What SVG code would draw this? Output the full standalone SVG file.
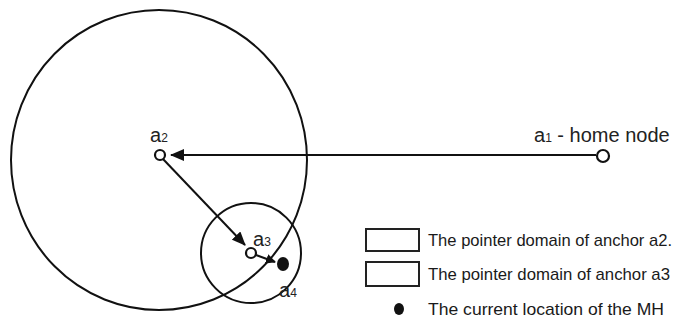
<svg xmlns="http://www.w3.org/2000/svg" width="686" height="326" viewBox="0 0 686 326">
<defs>
<style>
.ln{fill:none;stroke:#111;stroke-width:2}
.node{fill:#fff;stroke:#111;stroke-width:2.2}
.lbl{font-family:"Liberation Sans",Arial,sans-serif;font-size:20px;fill:#222}
.sub{font-size:12px}
.leg{font-family:"Liberation Sans",Arial,sans-serif;font-size:17px;fill:#1a1a1a}
.box{fill:#fff;stroke:#222;stroke-width:2}
</style>
<marker id="ah" markerUnits="userSpaceOnUse" markerWidth="14" markerHeight="12" refX="13" refY="6" orient="auto">
<path d="M0,0 L14,6 L0,12 Z" fill="#111"/>
</marker>
<marker id="ahs" markerUnits="userSpaceOnUse" markerWidth="10" markerHeight="10" refX="9" refY="5" orient="auto">
<path d="M0,0 L10,5 L0,10 Z" fill="#111"/>
</marker>
</defs>
<rect width="686" height="326" fill="#fff"/>
<g id="domain-a2"><ellipse class="ln" cx="159" cy="160" rx="148" ry="150"/></g>
<g id="domain-a3"><circle class="ln" cx="251" cy="253" r="50"/></g>
<g id="connectors">
<line class="ln" x1="596" y1="155" x2="171" y2="155" marker-end="url(#ah)"/>
<line class="ln" x1="163" y1="159" x2="245" y2="245" marker-end="url(#ah)"/>
<line class="ln" x1="256" y1="255" x2="275" y2="262" marker-end="url(#ahs)"/>
</g>
<g id="a1"><circle class="node" cx="603" cy="156" r="6"/>
<text class="lbl" x="534" y="142">a<tspan class="sub">1</tspan> - home node</text></g>
<g id="a2"><circle class="node" cx="160" cy="155" r="5"/>
<text class="lbl" x="150" y="142">a<tspan class="sub">2</tspan></text></g>
<g id="a3"><circle class="node" cx="251" cy="253" r="5"/>
<text class="lbl" x="253" y="246">a<tspan class="sub">3</tspan></text></g>
<g id="a4"><ellipse cx="283" cy="264" rx="6" ry="7" fill="#111"/>
<text class="lbl" x="279" y="297">a<tspan class="sub">4</tspan></text></g>
<g id="legend">
<rect class="box" x="366" y="229" width="53" height="22"/>
<text class="leg" x="428" y="246" textLength="244" lengthAdjust="spacingAndGlyphs">The pointer domain of anchor a2.</text>
<rect class="box" x="366" y="262" width="53" height="24"/>
<text class="leg" x="428" y="280" textLength="242" lengthAdjust="spacingAndGlyphs">The pointer domain of anchor a3</text>
<ellipse cx="399" cy="309" rx="5" ry="6" fill="#111"/>
<text class="leg" x="428" y="315" textLength="236" lengthAdjust="spacingAndGlyphs">The current location of the MH</text>
</g>
</svg>
